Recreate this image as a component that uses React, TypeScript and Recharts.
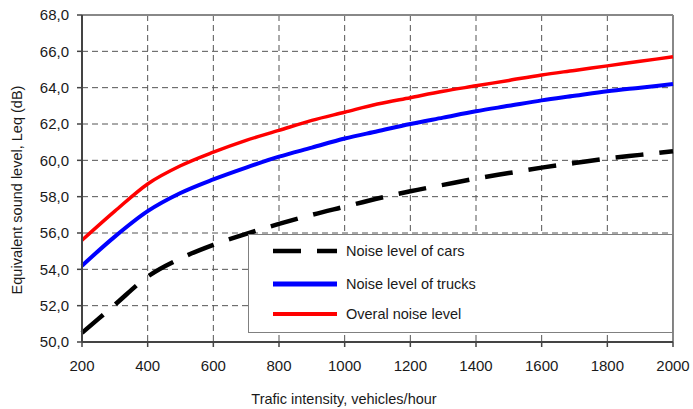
import React from 'react';
import { LineChart, Line, XAxis, YAxis, CartesianGrid, Legend, ReferenceLine, Label } from 'recharts';

const xValues = [200, 300, 400, 500, 600, 700, 800, 900, 1000, 1100, 1200, 1300, 1400, 1500, 1600, 1700, 1800, 1900, 2000];
const carsNoise = [50.5, 52.05, 53.6, 54.6, 55.35, 55.95, 56.5, 57.0, 57.45, 57.9, 58.3, 58.65, 59.0, 59.3, 59.6, 59.85, 60.1, 60.3, 60.5];
const trucksNoise = [54.2, 55.8, 57.2, 58.2, 58.95, 59.6, 60.2, 60.7, 61.2, 61.6, 62.0, 62.35, 62.7, 63.0, 63.3, 63.55, 63.8, 64.0, 64.2];
const overallNoise = [55.6, 57.2, 58.7, 59.7, 60.45, 61.1, 61.65, 62.2, 62.65, 63.1, 63.45, 63.8, 64.1, 64.4, 64.7, 64.95, 65.2, 65.45, 65.7];

const xTicks = [200, 400, 600, 800, 1000, 1200, 1400, 1600, 1800, 2000];
const yTicks = [50, 52, 54, 56, 58, 60, 62, 64, 66, 68];

const seriesNames = ['Noise level of cars', 'Noise level of trucks', 'Overal noise level'];
const xAxisTitle = 'Trafic intensity, vehicles/hour';
const yAxisTitle = 'Equivalent sound level, Leq (dB)';

const data = xValues.map((x, i) => ({
  x,
  cars: carsNoise[i],
  trucks: trucksNoise[i],
  overall: overallNoise[i],
}));

const FONT = "Arial, 'Liberation Sans', sans-serif";
const TEXT = '#1a1a1a';

const legendItems = [
  { name: seriesNames[0], color: '#000000', width: 4.5, dash: '28 16' },
  { name: seriesNames[1], color: '#0000ff', width: 5, dash: undefined },
  { name: seriesNames[2], color: '#ff0000', width: 4, dash: undefined },
];

const renderLegend = () => (
  <div
    style={{
      width: 425,
      height: 99,
      boxSizing: 'border-box',
      border: '1px solid #808080',
      background: '#fff',
      position: 'relative',
      fontFamily: FONT,
      fontSize: 14.5,
      color: TEXT,
    }}
  >
    {legendItems.map((it, i) => {
      const cy = [16, 49, 79][i];
      return (
        <div key={it.name} style={{ position: 'absolute', left: 0, top: cy - 10, height: 20, width: '100%' }}>
          <svg width={70} height={20} style={{ position: 'absolute', left: 24, top: 0 }}>
            <line x1={0} y1={10} x2={64} y2={10} stroke={it.color} strokeWidth={it.width} strokeDasharray={it.dash} />
          </svg>
          <span style={{ position: 'absolute', left: 97, top: 1, lineHeight: '18px', whiteSpace: 'nowrap' }}>{it.name}</span>
        </div>
      );
    })}
  </div>
);

const fmt = (v: number) => v.toFixed(1).replace('.', ',');

export default function App() {
  return (
    <div style={{ position: 'absolute', left: 0, top: 0, width: 693, height: 409, background: '#fff' }}>
      <LineChart width={693} height={409} data={data} margin={{ top: 15, right: 20, bottom: 0, left: 0 }}>
        <CartesianGrid stroke="#555" strokeDasharray="6 4" strokeWidth={1} />
        <XAxis
          dataKey="x"
          type="number"
          domain={[200, 2000]}
          ticks={xTicks}
          height={67}
          tickSize={5}
          tickMargin={13}
          axisLine={{ stroke: '#444', strokeWidth: 2 }}
          tickLine={{ stroke: '#444', strokeWidth: 1.5 }}
          tick={{ fill: TEXT, fontSize: 15, fontFamily: FONT }}
          interval={0}
        >
          <Label
            content={() => (
              <text x={344} y={404} textAnchor="middle" fill={TEXT} fontSize={14.5} fontFamily={FONT}>
                {xAxisTitle}
              </text>
            )}
          />
        </XAxis>
        <YAxis
          type="number"
          domain={[50, 68]}
          ticks={yTicks}
          width={82}
          tickSize={5}
          tickMargin={8}
          tickFormatter={fmt}
          axisLine={{ stroke: '#444', strokeWidth: 2 }}
          tickLine={{ stroke: '#444', strokeWidth: 1.5 }}
          tick={{ fill: TEXT, fontSize: 15, fontFamily: FONT }}
          interval={0}
        >
          <Label
            content={() => (
              <text
                x={17}
                y={190}
                transform="rotate(-90, 17, 190)"
                textAnchor="middle"
                dominantBaseline="central"
                fill={TEXT}
                fontSize={14.5}
                fontFamily={FONT}
              >
                {yAxisTitle}
              </text>
            )}
          />
        </YAxis>
        <ReferenceLine y={68} stroke="#888" strokeWidth={2} />
        <ReferenceLine x={2000} stroke="#888" strokeWidth={2} />
        <Line
          type="monotone"
          dataKey="cars"
          name={seriesNames[0]}
          stroke="#000"
          strokeWidth={4.5}
          strokeDasharray="28 16"
          dot={false}
          activeDot={false}
          isAnimationActive={false}
        />
        <Line
          type="monotone"
          dataKey="trucks"
          name={seriesNames[1]}
          stroke="#0000ff"
          strokeWidth={4}
          dot={false}
          activeDot={false}
          isAnimationActive={false}
        />
        <Line
          type="monotone"
          dataKey="overall"
          name={seriesNames[2]}
          stroke="#ff0000"
          strokeWidth={3.5}
          dot={false}
          activeDot={false}
          isAnimationActive={false}
        />
        <Legend
          layout="vertical"
          align="center"
          verticalAlign="middle"
          content={renderLegend}
          wrapperStyle={{ position: 'absolute', left: 248, top: 234, width: 425, height: 99 }}
        />
      </LineChart>
    </div>
  );
}
